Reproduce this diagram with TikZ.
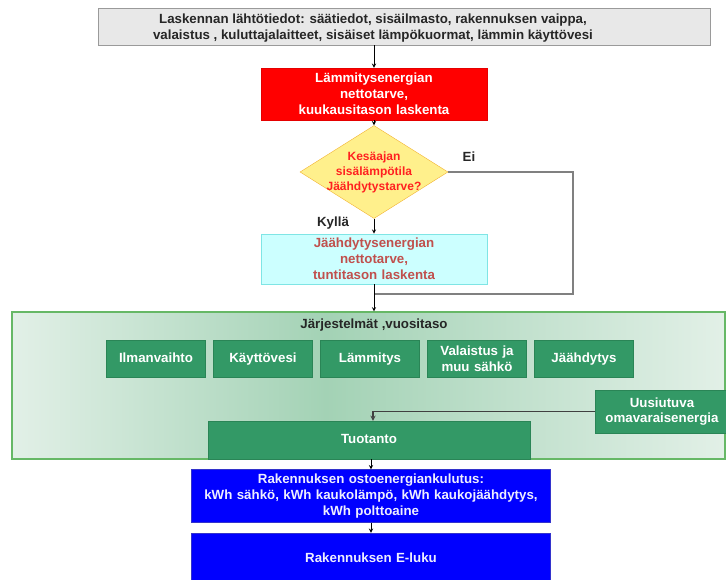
\documentclass[tikz,border=0pt]{standalone}
\usepackage{fontspec}
\setmainfont{Liberation Sans}
\usetikzlibrary{shapes,arrows,calc}

\definecolor{inputgray}{HTML}{E8E8E8}
\definecolor{inputline}{HTML}{9A9A9A}
\definecolor{heatred}{HTML}{FF0000}
\definecolor{decfill}{HTML}{FFF08C}
\definecolor{decline}{HTML}{F2B233}
\definecolor{decred}{HTML}{FF2020}
\definecolor{coolfill}{HTML}{CCFFFF}
\definecolor{coolline}{HTML}{7FE5E5}
\definecolor{cooltext}{HTML}{C0504D}
\definecolor{sysgreen}{HTML}{339966}
\definecolor{sysline}{HTML}{2A8556}
\definecolor{frameline}{HTML}{66B866}
\definecolor{shadein}{HTML}{A3D2B5}
\definecolor{shadeout}{HTML}{E2F0E7}
\definecolor{outblue}{HTML}{0000FF}
\definecolor{outline}{HTML}{3333CC}
\definecolor{outtext}{HTML}{EEEEFF}

\pgfdeclarehorizontalshading{sysglow}{100bp}{color(0bp)=(shadeout); color(25bp)=(shadeout); color(47bp)=(shadein); color(75bp)=(shadeout); color(100bp)=(shadeout)}

\begin{document}
\begin{tikzpicture}[x=1pt, y=-1pt, node distance=107pt, auto]
\useasboundingbox (0,0) rectangle (726,580);
{\fontsize{13.3}{15.8}\selectfont\bfseries
	\tikzstyle{inputbox} = [rectangle, minimum width=612, minimum height=37, draw=inputline, fill=inputgray]
	\tikzstyle{inputtext} = [align=center, text=black!85, xshift=-31pt, yshift=-1.5pt]
	\tikzstyle{process} = [rectangle, minimum width=226, minimum height=52, text width=215, text centered, draw=red!90!black, fill=heatred, text=white]
	\tikzstyle{decision} = [diamond, minimum width=148, minimum height=93, inner sep=0pt, draw=decline, fill=decfill]
	\tikzstyle{dectext} = [align=center, text=decred, font=\fontsize{12}{15}\selectfont\bfseries]
	\tikzstyle{coolbox} = [process, minimum height=50, draw=coolline, fill=coolfill, text=cooltext]
	\tikzstyle{sysframe} = [rectangle, minimum width=713, minimum height=147, draw=frameline, line width=1.2pt, shading=sysglow]
	\tikzstyle{subsys} = [rectangle, minimum width=97, minimum height=37, text width=90, text centered, draw=sysline, fill=sysgreen, text=white]
	\tikzstyle{subsys1} = [subsys, text height=10pt, text depth=3pt]
	\tikzstyle{result} = [rectangle, minimum width=356, minimum height=50, text width=350, text centered, draw=outline, fill=outblue, text=outtext]
	\tikzstyle{arrow} = [->, >=stealth, line width=0.9pt, black]
	\tikzstyle{bypass} = [draw=gray, line width=1.3pt]
	\tikzstyle{feed} = [->, >=stealth, draw=black!75, line width=1.3pt]

	\node (input) [inputbox, label={[inputtext]center:{Laskennan lähtötiedot: säätiedot, sisäilmasto, rakennuksen vaippa,\\ valaistus , kuluttajalaitteet, sisäiset lämpökuormat, lämmin käyttövesi}}] at (404,26.5) {};
	\node (heat) [process] at (374,94) {Lämmitysenergian\\ nettotarve,\\ kuukausitason laskenta};
	\node (dec) [decision, label={[dectext]center:{Kesäajan\\ sisälämpötila\\ Jäähdytystarve?}}] at (374,172) {};
	\node (cool) [coolbox] at (374,259) {Jäähdytysenergian\\ nettotarve,\\ tuntitason laskenta};
	\node (ei) [text=black!85] at (469,157) {Ei};
	\node (kylla) [text=black!85] at (333,223) {Kyllä};
	\coordinate (corner) at (573,294);
	\coordinate (merge) at (374,294);

	\node (sys) [sysframe] at (368.5,385.5) {};
	\node (systitle) [text=black!85] at (374,325) {Järjestelmät ,vuositaso};
	\node (ilma) [subsys1] at (156,358.5) {Ilmanvaihto};
	\node (kayt) [subsys1, right of=ilma] {Käyttövesi};
	\node (lamm) [subsys1, right of=kayt] {Lämmitys};
	\node (vala) [subsys, right of=lamm] {Valaistus ja\\ muu sähkö};
	\node (jaah) [subsys1, right of=vala] {Jäähdytys};
	\node (uusi) [subsys, minimum width=126, text width=124, minimum height=43] at (662,411.5) {Uusiutuva\\ omavaraisenergia};
	\node (tuot) [subsys1, minimum width=322, text width=300, minimum height=38] at (369,440) {Tuotanto};

	\node (osto) [result] at (371,496) {Rakennuksen ostoenergiankulutus:\\ kWh sähkö, kWh kaukolämpö, kWh kaukojäähdytys,\\ kWh polttoaine};
	\node (eluku) [result, minimum height=52, text height=10pt, text depth=3pt] at (371,559) {Rakennuksen E-luku};

	\draw [arrow] (heat.north |- input.south) -- (heat.north);
	\draw [arrow] (heat) -- (dec);
	\draw [arrow] (dec) -- (cool);
	\draw [bypass] (dec.east) -| (corner) -- (merge);
	\draw [arrow] (cool) -- (cool.south |- sys.north);
	\draw [feed] (uusi.west) -| ($(tuot.north)+(4,0)$);
	\draw [arrow] (osto.north |- tuot.south) -- (osto.north);
	\draw [arrow] (osto) -- (eluku);
	}
\end{tikzpicture}
\end{document}
